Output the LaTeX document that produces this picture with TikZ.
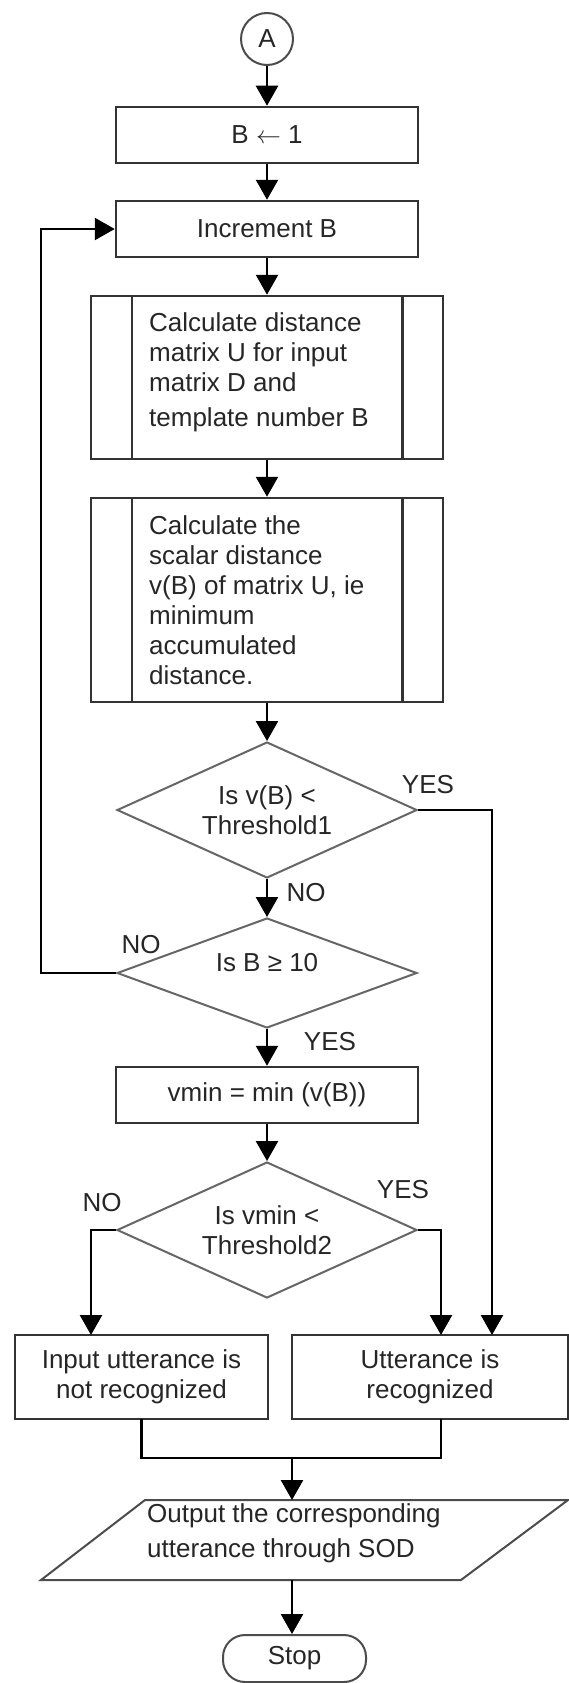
\documentclass[tikz,border=0pt]{standalone}
\usepackage{fontspec}
\setmainfont{Liberation Sans}
\usetikzlibrary{shapes.geometric,arrows.meta,calc}
\begin{document}
\begin{tikzpicture}[x=1pt,y=-1pt,
  every node/.style={font=\fontsize{26}{30}\selectfont, text=black!85},
  box/.style={draw=black!80, line width=2.5pt, minimum width=302pt, minimum height=56pt, inner sep=0pt, align=center},
  sub/.style={draw=black!80, line width=2.5pt, minimum width=352pt, inner sep=0pt},
  dec/.style={diamond, draw=black!60, line width=2pt, aspect=2.2, minimum width=300pt, minimum height=136pt, inner sep=0pt, align=center},
  conn/.style={line width=2.5pt, black, line join=miter},
  arr/.style={conn, -{Triangle[length=20pt,width=22pt]}},
  lbl/.style={inner sep=0pt},
  para/.style={anchor=north west, align=left, inner sep=0pt}]
\useasboundingbox (0,0) rectangle (569,1683);
\fill[white] (0,0) rectangle (569,1683);

% nodes
\node[circle, draw=black!70, line width=2pt, minimum size=52pt, inner sep=0pt] (A) at (267,39) {A};
\node[box] (b1) at (267,135) {B $\leftarrow$ 1};
\node[box] (inc) at (267,229) {Increment B};
\node[sub, minimum height=163pt] (s1) at (267,377.5) {};
\draw[draw=black!80, line width=2.5pt] ($(s1.north west)+(42,0)$) -- ($(s1.south west)+(42,0)$)
  ($(s1.north east)+(-42,0)$) -- ($(s1.south east)+(-42,0)$);
\node[para] (s1t) at (149,312) {Calculate distance\\matrix U for input\\matrix D and\\[5pt]template number B};
\node[sub, minimum height=204pt] (s2) at (267,600) {};
\draw[draw=black!80, line width=2.5pt] ($(s2.north west)+(42,0)$) -- ($(s2.south west)+(42,0)$)
  ($(s2.north east)+(-42,0)$) -- ($(s2.south east)+(-42,0)$);
\node[para] (s2t) at (149,515) {Calculate the\\scalar distance\\v(B) of matrix U, ie\\minimum\\accumulated\\distance.};
\node[dec] (d1) at (267,810) {Is v(B) <\\Threshold1};
\node[dec, minimum height=110pt] (d2) at (267,973) {};
\node[lbl] (d2t) at (267,963) {Is B ≥ 10};
\node[box] (vm) at (267,1095) {vmin = min (v(B))};
\node[dec] (d3) at (267,1230) {Is vmin <\\Threshold2};
\node[draw=black!80, line width=2.5pt, minimum width=253pt, minimum height=84pt, inner sep=0pt, align=center] (no) at (141.5,1377) {Input utterance is\\not recognized};
\node[draw=black!80, line width=2.5pt, minimum width=276pt, minimum height=84pt, inner sep=0pt, align=center] (yes) at (430,1377) {Utterance is\\recognized};
\draw[draw=black!70, line width=2pt] (145,1500) -- (568,1500) -- (461,1580) -- (41,1580) -- cycle;
\node[para] (pt) at (147,1503) {Output the corresponding\\[5pt]utterance through SOD};
\node[draw=black!70, line width=2pt, rounded corners=22pt, minimum width=143pt, minimum height=47pt, inner sep=0pt] (stop) at (294.5,1658.5) {Stop};

% labels
\node[lbl] (y1) at (428,785) {YES};
\node[lbl] (n1) at (306,893) {NO};
\node[lbl] (n2) at (141,945) {NO};
\node[lbl] (y2) at (330,1042) {YES};
\node[lbl] (n3) at (102,1203) {NO};
\node[lbl] (y3) at (403,1190) {YES};

% coordinates
\coordinate (lp) at (41,973);
\coordinate (noin) at (91,1335);
\coordinate (yin) at (441,1335);
\coordinate (yin2) at (492,1335);
\coordinate (noout) at (141.5,1419);
\coordinate (yout) at (441,1419);
\coordinate (mg) at (292,1458);
\coordinate (ptop) at (292,1500);
\coordinate (pbot) at (292,1580);

% connectors
\draw[arr] (A.south) -- (b1.north);
\draw[arr] (b1.south) -- (inc.north);
\draw[arr] (inc.south) -- (s1.north);
\draw[arr] (s1.south) -- (s2.north);
\draw[arr] (s2.south) -- (d1.north);
\draw[arr] (d1.south) -- (d2.north);
\draw[arr] (d2.west) -- (lp) |- (inc.west);
\draw[arr] (d2.south) -- (vm.north);
\draw[arr] (vm.south) -- (d3.north);
\draw[arr] (d3.west) -| (noin);
\draw[arr] (d3.east) -| (yin);
\draw[arr] (d1.east) -| (yin2);
\draw[conn] (noout) |- (mg) -| (yout);
\draw[arr] (mg) -- (ptop);
\draw[arr] (pbot) -- (pbot |- stop.north);
\end{tikzpicture}
\end{document}
